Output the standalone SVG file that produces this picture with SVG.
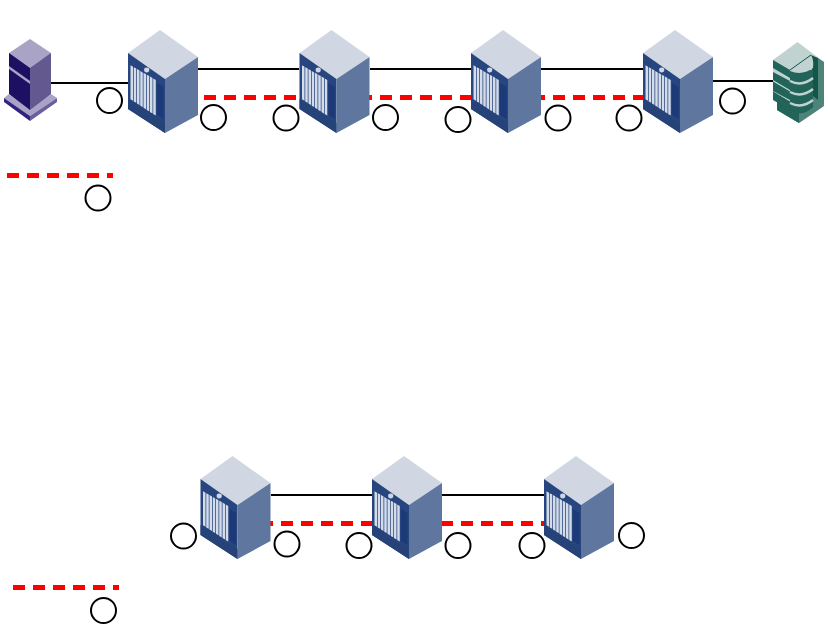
<svg xmlns="http://www.w3.org/2000/svg" width="828" height="627" viewBox="0 0 828 627">
<style>
.l{fill:none;stroke:#000;stroke-width:2}
.d{fill:none;stroke:#f00;stroke-width:5;stroke-dasharray:12 8}
.c{fill:#fff;stroke:#000;stroke-width:2}
</style>
<defs>
<symbol id="srv" width="72" height="104" viewBox="0 0 72 104" overflow="visible">
<path d="M0 23L32 0L70 27L37 49Z" fill="#d0d7e3"/>
<path d="M0 23L37 49V103L0 79Z" fill="#27467f"/>
<path d="M37 49L70 27V85L37 103Z" fill="#5f769f"/>
<path d="M0 69L37 93V103L0 79Z" fill="#264379"/>
<path d="M29 53L35.500 57V89L29 85Z" fill="#1c3a78"/>
<path d="M2.500 35.300l2.500 1.400v34l-2.500-1.400zM5.750 37.200l2.500 1.400v34.200l-2.500-1.400zM9 39.100l2.500 1.400v34.500l-2.500-1.400zM12.250 41l2.500 1.400v34.700l-2.500-1.400zM15.500 42.800l2.500 1.400v35l-2.500-1.400zM18.750 44.700l2.500 1.400v35.200l-2.500-1.400zM22 46.600l2.500 1.400v35.400l-2.500-1.400zM25.250 48.500l2.500 1.400v35.600l-2.500-1.400z" fill="#d4dcea"/>
<ellipse cx="18.700" cy="40" rx="2.600" ry="2.400" fill="#d0d7e3"/>
</symbol>
</defs>
<g id="connectors">
<path class="l" d="M51 83H128M198 69H299M370 69H471M541 69H643M713 81H774M271 495H372M442 495H544"/>
<path class="d" d="M204 97.500H300M360 97.500H472M533 97.500H644M261 523.500H373M441 523.500H545M7 175.500H113M13 587.500H119"/>
</g>
<g id="client">
<path d="M9 53L30 39L51 53V94L30 110L9 94Z" fill="#a9a3c6"/>
<path d="M9 53L30 68V112L9 94Z" fill="#1d0f62"/>
<path d="M30 68L51 53V94L30 112Z" fill="#635890"/>
<path d="M9 66L30 81V84L9 69Z" fill="#a9a3c6"/>
<path d="M4 98L9 94L30 110L51 94L57 98L30 116Z" fill="#a9a3c6"/>
<path d="M4 98L30 116V121L4 102Z" fill="#2f2380"/>
<path d="M30 116L57 98V102L30 121Z" fill="#6b5fa0"/>
</g>
<g id="server-1"><use href="#srv" x="128" y="30" width="72" height="104"/></g>
<g id="server-2"><use href="#srv" x="299.500" y="30" width="72" height="104"/></g>
<g id="server-3"><use href="#srv" x="471" y="30" width="72" height="104"/></g>
<g id="server-4"><use href="#srv" x="643" y="30" width="72" height="104"/></g>
<g id="server-5"><use href="#srv" x="200.500" y="456" width="72" height="104"/></g>
<g id="server-6"><use href="#srv" x="372" y="456" width="72" height="104"/></g>
<g id="server-7"><use href="#srv" x="544" y="456" width="72" height="104"/></g>
<g id="storage">
<path d="M773 60L797.500 42L824 62V106L799 123L777 110V100L773 98Z" fill="#c0d3d0"/>
<path d="M777 98L790 108L813 95L818 99L824 106L799 123L777 110Z" fill="#4d8378"/>
<path d="M777 98L799 111V123L777 110Z" fill="#22645a"/>
<path d="M818 58L824 62V106L818 100Z" fill="#4d8378"/>
<path d="M811 55L818 58V100L813 96Z" fill="#155449"/>
<path d="M773 60L790 70V78L773 68ZM773 72L790 81V90L773 80ZM773 81.500L790 91.500V100L773 91ZM773 91.500L790 101.500V110L773 100Z" fill="#22645a"/>
<path d="M790 70H813V107Q802 118 790 110Z" fill="#22645a"/>
<path d="M790 70L811 55Q814 60 813 68Q802 76 790 71Z" fill="#c0d3d0"/>
<path d="M790 70L811 55" stroke="#155449" fill="none"/>
<path d="M790 81Q802 87 813 78M790 92Q802 98 813 89M790 103Q802 109 813 100" stroke="#c0d3d0" stroke-width="2.500" fill="none"/>
</g>
<g id="labels">
<circle class="c" cx="109.500" cy="100.500" r="12.500"/>
<circle class="c" cx="213.500" cy="117.500" r="12.500"/>
<circle class="c" cx="286" cy="118" r="12.500"/>
<circle class="c" cx="385.500" cy="117.500" r="12.500"/>
<circle class="c" cx="458" cy="119.500" r="12.500"/>
<circle class="c" cx="558" cy="118" r="12.500"/>
<circle class="c" cx="629" cy="118" r="12.500"/>
<circle class="c" cx="732.500" cy="101" r="12.500"/>
<circle class="c" cx="98" cy="198" r="12.500"/>
<circle class="c" cx="183.500" cy="536" r="12.500"/>
<circle class="c" cx="287" cy="544" r="12.500"/>
<circle class="c" cx="359" cy="545.500" r="12.500"/>
<circle class="c" cx="458" cy="545.500" r="12.500"/>
<circle class="c" cx="532" cy="545.500" r="12.500"/>
<circle class="c" cx="631.500" cy="535.500" r="12.500"/>
<circle class="c" cx="103.500" cy="610.500" r="12.500"/>
</g>
</svg>
